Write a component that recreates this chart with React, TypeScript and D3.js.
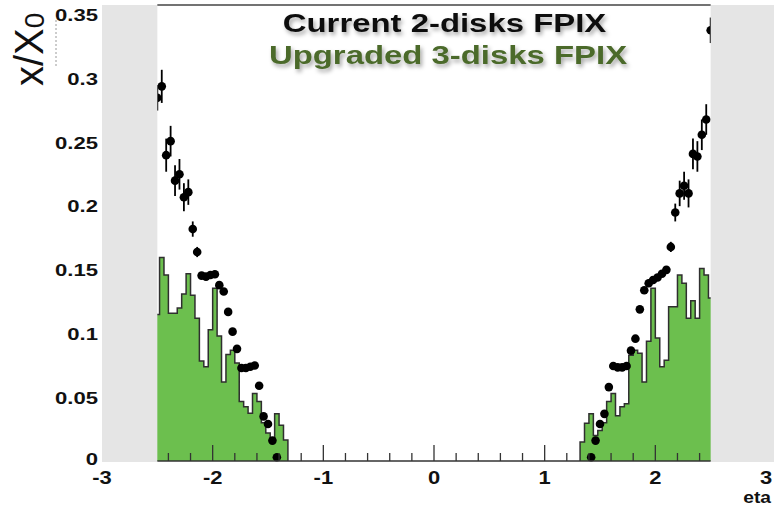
import React from 'react';
import * as d3 from 'd3';

const W = 774;
const H = 507;

// Histogram binning in eta (150 bins over [-3, 3])
const BIN_W = 0.04;

// Upgraded 3-disks FPIX material budget (filled histogram), per bin
const leftHistStart = -2.52;
const leftHist = [
  0.115, 0.1596, 0.146, 0.116, 0.116, 0.12, 0.131, 0.147, 0.13, 0.112,
  0.0785, 0.074, 0.103, 0.1355, 0.098, 0.062, 0.0835, 0.087, 0.077, 0.0466,
  0.0426, 0.0374, 0.053, 0.0466, 0.03, 0.022, 0.018, 0.037, 0.028, 0.0165,
];
const rightHistStart = 1.32;
const rightHist = [
  0.015, 0.0296, 0.037, 0.02, 0.024, 0.03, 0.0466, 0.053, 0.0356, 0.0426,
  0.045, 0.083, 0.087, 0.0845, 0.062, 0.094, 0.1356, 0.0965, 0.074, 0.079,
  0.121, 0.121, 0.146, 0.1395, 0.112, 0.1258, 0.112, 0.151, 0.146, 0.128,
];

// Current 2-disks FPIX material budget (markers with errors), bin centres
const leftDotStart = -2.5;
const leftDots = [
  0.285, 0.294, 0.24, 0.251, 0.22, 0.225, 0.207, 0.211, 0.182, 0.164,
  0.1455, 0.1447, 0.146, 0.1465, 0.138, 0.133, 0.117, 0.1015, 0.088, 0.073,
  0.073, 0.074, 0.075, 0.059, 0.035, 0.029, 0.016, 0.003,
];
const leftErr = [
  0.01, 0.013, 0.013, 0.012, 0.012, 0.012, 0.011, 0.01, 0.006, 0.004,
  0.002, 0.002, 0.002, 0.002, 0.002, 0.002, 0.002, 0.002, 0.002, 0.002,
  0.002, 0.002, 0.002, 0.002, 0.002, 0.002, 0.002, 0.002,
];
const rightDotStart = 1.42;
const rightDots = [
  0.003, 0.016, 0.029, 0.037, 0.058, 0.0746, 0.0735, 0.0735, 0.0746, 0.0866,
  0.096, 0.119, 0.134, 0.1395, 0.142, 0.144, 0.147, 0.15, 0.168, 0.195,
  0.21, 0.216, 0.21, 0.241, 0.239, 0.256, 0.268, 0.338,
];
const rightErr = [
  0.002, 0.002, 0.002, 0.002, 0.002, 0.002, 0.002, 0.002, 0.002, 0.002,
  0.002, 0.002, 0.002, 0.002, 0.002, 0.002, 0.002, 0.002, 0.004, 0.007,
  0.01, 0.011, 0.011, 0.012, 0.012, 0.012, 0.012, 0.01,
];

const yTicks = [0, 0.05, 0.1, 0.15, 0.2, 0.25, 0.3, 0.35];
const yTickLabels = ['0', '0.05', '0.1', '0.15', '0.2', '0.25', '0.3', '0.35'];
const xTicks = [-3, -2, -1, 0, 1, 2, 3];
const xTickLabels = ['-3', '-2', '-1', '0', '1', '2', '3'];
const legendLines = ['Current 2-disks FPIX', 'Upgraded 3-disks FPIX'];

const FONT = '"Liberation Sans", Arial, Helvetica, sans-serif';
const GREEN = '#6cbf4e';
const GRAY = '#e5e5e5';
const STRETCH = 1.29;

const x = d3.scaleLinear().domain([-3, 3]).range([102, 766]);
const y = d3.scaleLinear().domain([0, 0.35]).range([461, 15]);
const ETA_COVER = 2.5;
const FRAME_TOP = 5;

function histPath(start: number, vals: number[]): string {
  const pts: [number, number][] = [[start, 0]];
  vals.forEach((v, i) => {
    pts.push([start + i * BIN_W, v]);
    pts.push([start + (i + 1) * BIN_W, v]);
  });
  pts.push([start + vals.length * BIN_W, 0]);
  return d3.line()(pts.map(([e, v]) => [x(e), y(v)] as [number, number])) || '';
}

function Markers({ start, vals, errs }: { start: number; vals: number[]; errs: number[] }) {
  return (
    <g>
      {vals.map((v, i) => {
        const cx = x(start + i * BIN_W);
        return (
          <g key={i}>
            <line x1={cx} x2={cx} y1={y(v - errs[i])} y2={y(v + errs[i])} stroke="#000" strokeWidth={1.8} />
            <circle cx={cx} cy={y(v)} r={4.3} fill="#000" />
          </g>
        );
      })}
    </g>
  );
}

export default function App() {
  const minor = d3.range(-24, 25, 2).map((i) => i / 10).filter((t) => Math.abs(t - Math.round(t)) > 1e-9);
  const major = [-2, -1, 0, 1, 2];
  const y0 = y(0);

  return (
    <svg
      width={W}
      height={H}
      viewBox={`0 0 ${W} ${H}`}
      style={{ position: 'absolute', left: 0, top: 0, background: '#fff' }}
    >
      <defs>
        <filter id="softShadow" x="-10%" y="-30%" width="120%" height="180%">
          <feDropShadow dx="2" dy="3" stdDeviation="2.2" floodColor="#000" floodOpacity="0.35" />
        </filter>
      </defs>
      <rect x={0} y={0} width={W} height={H} fill="#fff" />

      {/* filled histogram */}
      <path d={histPath(leftHistStart, leftHist)} fill={GREEN} stroke="#2f2f2f" strokeWidth={1.5} />
      <path d={histPath(rightHistStart, rightHist)} fill={GREEN} stroke="#2f2f2f" strokeWidth={1.5} />

      {/* markers */}
      <Markers start={leftDotStart} vals={leftDots} errs={leftErr} />
      <Markers start={rightDotStart} vals={rightDots} errs={rightErr} />

      {/* outside acceptance */}
      <rect x={x(-3)} y={FRAME_TOP} width={x(-ETA_COVER) - x(-3)} height={y0 + 1 - FRAME_TOP} fill={GRAY} />
      <rect x={x(ETA_COVER)} y={FRAME_TOP} width={W - x(ETA_COVER)} height={y0 + 1 - FRAME_TOP} fill={GRAY} />

      {/* frame top and x axis */}
      <line x1={x(-ETA_COVER)} x2={x(ETA_COVER)} y1={FRAME_TOP} y2={FRAME_TOP} stroke="#444" strokeWidth={1.5} />
      <line x1={x(-ETA_COVER)} x2={x(ETA_COVER)} y1={y0} y2={y0} stroke="#333" strokeWidth={1.5} />
      {minor.map((t) => (
        <line key={`m${t}`} x1={x(t)} x2={x(t)} y1={y0} y2={y0 - 8} stroke="#333" strokeWidth={1.3} />
      ))}
      {major.map((t) => (
        <line key={`M${t}`} x1={x(t)} x2={x(t)} y1={y0} y2={y0 - 16} stroke="#333" strokeWidth={1.3} />
      ))}

      {/* x tick labels */}
      {xTicks.map((t, i) => (
        <text
          key={`xl${t}`}
          transform={`translate(${x(t)},484) scale(1.22,1)`}
          textAnchor="middle"
          fontFamily={FONT}
          fontWeight="bold"
          fontSize={18}
          fill="#111"
        >
          {xTickLabels[i]}
        </text>
      ))}
      <text
        transform={`translate(771,503) scale(1.2,1)`}
        textAnchor="end"
        fontFamily={FONT}
        fontWeight="bold"
        fontSize={16}
        fill="#111"
      >
        eta
      </text>

      {/* y tick labels */}
      {yTicks.map((t, i) => (
        <text
          key={`yl${t}`}
          transform={`translate(98,${y(t) + (t === 0 ? 3.5 : 6.3)}) scale(1.3,1)`}
          textAnchor="end"
          fontFamily={FONT}
          fontWeight="bold"
          fontSize={17}
          fill="#111"
        >
          {yTickLabels[i]}
        </text>
      ))}

      {/* y axis title */}
      <line x1={56} x2={56} y1={20} y2={67} stroke="#9a9a9a" strokeWidth={1} strokeDasharray="2 2" />
      <text transform="translate(43,86) rotate(-90)" fontFamily={FONT} fontSize={40} fill="#111">
        x/X
        <tspan fontSize={28} dy={1}>0</tspan>
      </text>

      {/* legend */}
      <g filter="url(#softShadow)">
        <text
          transform={`translate(444.5,32) scale(${STRETCH},1)`}
          textAnchor="middle"
          fontFamily={FONT}
          fontWeight="bold"
          fontSize={25.5}
          fill="#111"
        >
          {legendLines[0]}
        </text>
        <text
          transform={`translate(448,64) scale(${STRETCH},1)`}
          textAnchor="middle"
          fontFamily={FONT}
          fontWeight="bold"
          fontSize={25.5}
          fill="#4b6a2c"
        >
          {legendLines[1]}
        </text>
      </g>
    </svg>
  );
}
